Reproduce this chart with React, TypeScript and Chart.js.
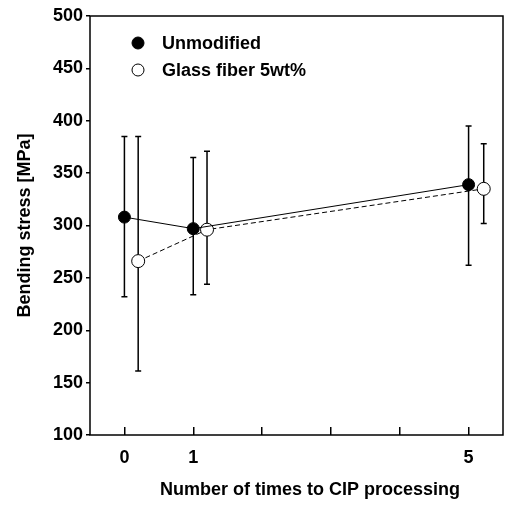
import React, { useEffect, useRef } from "react";
import { Chart, registerables } from "chart.js";

Chart.register(...registerables);

const seriesNames = ["Unmodified", "Glass fiber 5wt%"];
const xUnmod = [0, 1, 5];
const unmod = [308, 297, 339];
const unmodHi = [385, 365, 395];
const unmodLo = [232, 234, 262];
const xGlass = [0.2, 1.2, 5.22];
const glass = [266, 296, 335];
const glassHi = [385, 371, 378];
const glassLo = [161, 244, 302];
const xTickValues = [0, 1, 2, 3, 4, 5];
const xTickLabels = [0, 1, 5];
const xTitle = "Number of times to CIP processing";
const yTitle = "Bending stress [MPa]";

const FONT = "'Liberation Sans', Arial, sans-serif";

const errorBarPlugin = {
  id: "errorBars",
  beforeDatasetsDraw(chart: any) {
    const { ctx, scales } = chart;
    const xs = scales.x;
    const ys = scales.y;
    ctx.save();
    ctx.strokeStyle = "#000";
    ctx.lineWidth = 1.5;
    chart.data.datasets.forEach((ds: any) => {
      ds.data.forEach((p: any, i: number) => {
        const px = xs.getPixelForValue(p.x);
        const top = ys.getPixelForValue(ds.errHi[i]);
        const bot = ys.getPixelForValue(ds.errLo[i]);
        ctx.beginPath();
        ctx.moveTo(px, top);
        ctx.lineTo(px, bot);
        ctx.moveTo(px - 3, top);
        ctx.lineTo(px + 3, top);
        ctx.moveTo(px - 3, bot);
        ctx.lineTo(px + 3, bot);
        ctx.stroke();
      });
    });
    ctx.restore();
  },
};

const decorPlugin = {
  id: "decor",
  beforeDatasetsDraw(chart: any) {
    const { ctx, chartArea } = chart;
    ctx.save();
    ctx.strokeStyle = "#000";
    ctx.lineWidth = 1.5;
    ctx.strokeRect(chartArea.left, chartArea.top, chartArea.right - chartArea.left, chartArea.bottom - chartArea.top);
    ctx.restore();
  },
  afterDraw(chart: any) {
    const { ctx } = chart;
    ctx.save();
    ctx.fillStyle = "#000";
    ctx.font = `bold 18px ${FONT}`;
    ctx.textAlign = "center";
    ctx.textBaseline = "middle";
    ctx.fillText(xTitle, 310, 490);
    ctx.translate(25, 225.5);
    ctx.rotate(-Math.PI / 2);
    ctx.fillText(yTitle, 0, 0);
    ctx.restore();

    // legend
    ctx.save();
    const items = chart.data.datasets;
    items.forEach((ds: any, i: number) => {
      const y = 43 + i * 27;
      ctx.beginPath();
      ctx.arc(138, y, 6, 0, Math.PI * 2);
      ctx.fillStyle = ds.pointBackgroundColor;
      ctx.fill();
      ctx.lineWidth = 1;
      ctx.strokeStyle = "#000";
      ctx.stroke();
      ctx.fillStyle = "#000";
      ctx.font = `bold 18px ${FONT}`;
      ctx.textAlign = "left";
      ctx.textBaseline = "middle";
      ctx.fillText(ds.label, 162, y + 1);
    });
    ctx.restore();
  },
};

export default function App() {
  const ref = useRef<HTMLCanvasElement>(null);
  useEffect(() => {
    if (!ref.current) return;
    const chart = new Chart(ref.current, {
      type: "line",
      data: {
        datasets: [
          {
            label: seriesNames[0],
            data: xUnmod.map((x, i) => ({ x, y: unmod[i] })),
            errHi: unmodHi,
            errLo: unmodLo,
            borderColor: "#000",
            borderWidth: 1,
            pointRadius: 6,
            pointBackgroundColor: "#000",
            pointBorderColor: "#000",
            pointBorderWidth: 1,
            tension: 0,
          } as any,
          {
            label: seriesNames[1],
            data: xGlass.map((x, i) => ({ x, y: glass[i] })),
            errHi: glassHi,
            errLo: glassLo,
            borderColor: "#000",
            borderWidth: 1,
            borderDash: [5, 3],
            pointRadius: 6.5,
            pointBackgroundColor: "#fff",
            pointBorderColor: "#000",
            pointBorderWidth: 1,
            tension: 0,
          } as any,
        ],
      },
      options: {
        responsive: false,
        animation: false,
        layout: { autoPadding: false, padding: { top: 16, right: 2, left: 0, bottom: 0 } },
        plugins: { legend: { display: false }, tooltip: { enabled: false } },
        scales: {
          x: {
            type: "linear",
            min: -0.5,
            max: 5.5,
            border: { display: false },
            grid: { drawOnChartArea: false, tickLength: -8, color: "#000", lineWidth: 1.5 },
            ticks: {
              autoSkip: false,
              maxRotation: 0,
              padding: 20,
              color: "#000",
              font: { family: FONT, size: 18, weight: "bold" },
              callback: (v: any) => (xTickLabels.includes(Number(v)) ? String(v) : ""),
            },
            afterBuildTicks: (s: any) => {
              s.ticks = xTickValues.map((v) => ({ value: v }));
            },
            afterFit: (s: any) => {
              s.height = 73;
              s.paddingLeft = 0;
              s.paddingRight = 0;
            },
          },
          y: {
            min: 100,
            max: 500,
            border: { display: false },
            grid: { drawOnChartArea: false, tickLength: 4, color: "#000", lineWidth: 1.5 },
            ticks: {
              stepSize: 50,
              padding: 3,
              color: "#000",
              font: { family: FONT, size: 18, weight: "bold" },
            },
            afterFit: (s: any) => {
              s.width = 90;
            },
          },
        },
      } as any,
      plugins: [errorBarPlugin, decorPlugin],
    });
    return () => chart.destroy();
  }, []);
  return (
    <div style={{ position: "absolute", left: 0, top: 0, width: 505, height: 508, background: "#fff" }}>
      <canvas ref={ref} width={505} height={508} />
    </div>
  );
}
